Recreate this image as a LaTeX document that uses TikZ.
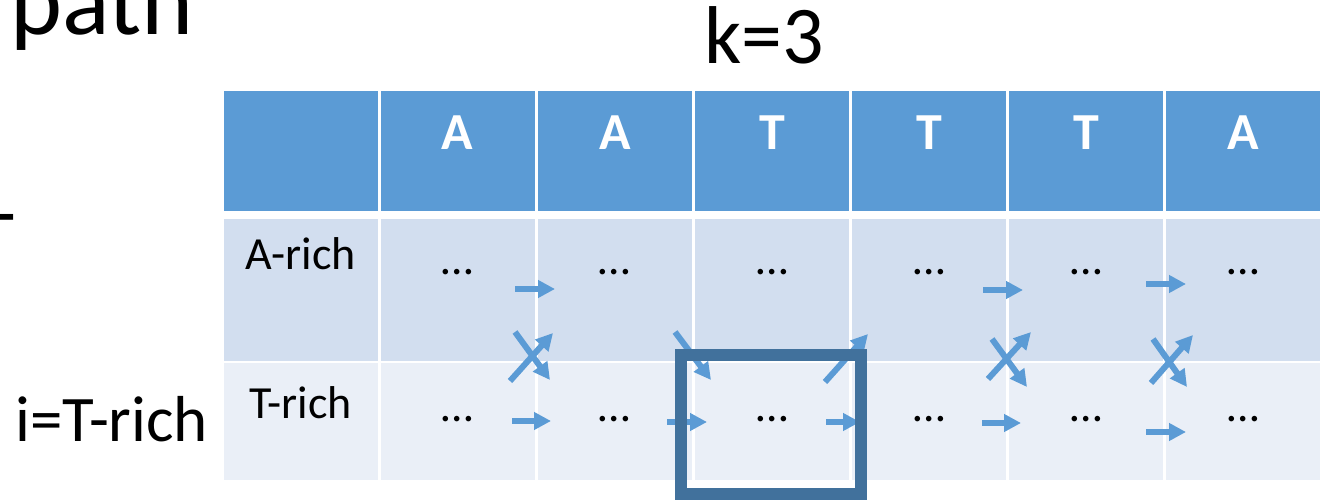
\documentclass[tikz,border=0pt]{standalone}
\usepackage{fontspec}
\setmainfont{Carlito}
\usetikzlibrary{arrows.meta}
\definecolor{hdrblue}{HTML}{5B9BD5}
\definecolor{bandA}{HTML}{D2DEEF}
\definecolor{bandT}{HTML}{EAEFF7}
\definecolor{framec}{HTML}{41719C}
\tikzset{
  cell/.style={rectangle, draw=none, inner sep=0pt, outer sep=0pt, minimum width=154.1pt},
  hdrtxt/.style={anchor=base, inner sep=0pt, text=white, font=\fontsize{52}{54}\selectfont\bfseries},
  rowtxt/.style={anchor=base, inner sep=0pt, font=\fontsize{46}{48}\selectfont},
  dotstxt/.style={anchor=base, inner sep=0pt, font=\fontsize{46}{48}\selectfont},
  flow/.style={draw=hdrblue, line width=6pt, -{Triangle[width=17pt,length=17pt]}},
  hilite/.style={rectangle, draw=framec, line width=12pt, inner sep=0pt, outer sep=0pt}
}
\begin{document}
\begin{tikzpicture}[x=1pt,y=-1pt]
\useasboundingbox (0,0) rectangle (1325,502);
\clip (0,0) rectangle (1325,502);

% headings outside the table
\node[anchor=base west, inner sep=0pt, font=\fontsize{99}{100}\selectfont] (title) at (10,35) {path};
\node[anchor=base west, inner sep=0pt, font=\fontsize{82}{84}\selectfont] (kval) at (704,64) {k=3};
\node[anchor=base west, inner sep=0pt, font=\fontsize{78}{80}\selectfont] (stateT) at (-23.6,265) {T};
\node[anchor=base west, inner sep=0pt, font=\fontsize{65}{67}\selectfont] (ilabel) at (15,441) {i=T-rich};

% table cells: header row, A-rich row, T-rich row
\foreach \c in {0,...,6} {
  \pgfmathsetmacro\cx{300.571+157.143*\c}
  \node[cell, fill=hdrblue, minimum height=120pt] (h\c) at (\cx,151) {};
  \node[cell, fill=bandA, minimum height=142pt] (a\c) at (\cx,290) {};
  \node[cell, fill=bandT, minimum height=117pt] (t\c) at (\cx,421.5) {};
}

% column symbols
\foreach \c/\s in {1/A,2/A,3/T,4/T,5/T,6/A} {
  \node[hdrtxt] (hs\c) at (h\c.center |- 0,150) {\s};
  \node[dotstxt] (ad\c) at (a\c.center |- 0,275) {…};
  \node[dotstxt] (td\c) at (t\c.center |- 0,421) {…};
}

% row labels
\node[rowtxt] (lblA) at (a0.center |- 0,270) {A-rich};
\node[rowtxt] (lblT) at (t0.center |- 0,418) {T-rich};

% transitions
\foreach \n/\xa/\ya/\xb/\yb in {
  1/515/289/555/289, 2/983/290/1023/290, 3/1146/284/1186/284,
  4/512/421/551/421, 5/667/422/707/422, 6/826/422/860/422,
  7/982/423/1021/423, 8/1146/432/1186/432,
  9/515/332/550/380, 10/510/381/553/333,
  11/675/332/711/380, 12/825/382/868/334,
  13/992/339/1027/387, 14/988/379/1031/332,
  15/1153/339/1187/387, 16/1151/383/1193/335} {
  \coordinate (f\n s) at (\xa,\ya);
  \coordinate (f\n e) at (\xb,\yb);
  \draw[flow] (f\n s) -- (f\n e);
}

% highlighted cell
\node[hilite, minimum width=180pt, minimum height=138.5pt] (sel) at (771,424.75) {};
\end{tikzpicture}
\end{document}
